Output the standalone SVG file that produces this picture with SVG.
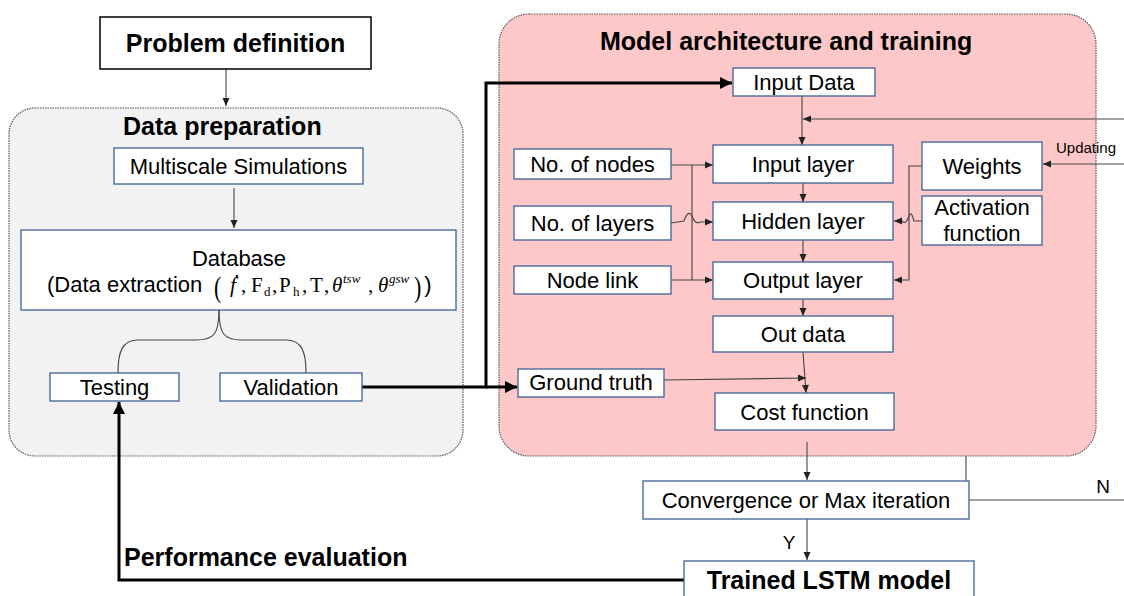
<svg xmlns="http://www.w3.org/2000/svg" width="1124" height="596" viewBox="0 0 1124 596">
<defs>
<marker id="ah" markerUnits="userSpaceOnUse" markerWidth="10" markerHeight="10" viewBox="0 0 10 10" refX="9" refY="5" orient="auto"><path d="M1,1.5 L9,5 L1,8.5 Z" fill="#222"/></marker>
<marker id="ahb" markerUnits="userSpaceOnUse" markerWidth="14" markerHeight="14" viewBox="0 0 14 14" refX="13" refY="7" orient="auto"><path d="M1,1 L13,7 L1,13 Z" fill="#000"/></marker>
</defs>
<style>
.box{fill:#fff;stroke:#3d6098;stroke-width:1.3}
.t{font-family:"Liberation Sans",Arial,sans-serif;font-size:22px;fill:#000;text-anchor:middle}
.b{font-family:"Liberation Sans",Arial,sans-serif;font-weight:bold;font-size:25px;fill:#000}
.m{font-family:"Liberation Serif","DejaVu Serif",serif;font-size:21px;fill:#000}
.ln{fill:none;stroke:#444;stroke-width:1.1}
.th{fill:none;stroke:#000;stroke-width:3}
.grp{stroke:#555;stroke-width:1.2;stroke-dasharray:1.5 1}
</style>

<g id="data-preparation">
<rect x="9" y="108" width="454" height="348" rx="26" fill="#f2f2f2" class="grp"/>
<text class="b" x="123" y="135">Data preparation</text>
</g>
<g id="model-architecture">
<rect x="499" y="14" width="597" height="442" rx="30" fill="#ffc8c8" class="grp"/>
<text class="b" x="600" y="50">Model architecture and training</text>
</g>

<g id="connectors">
<path class="ln" d="M226,69 V106" marker-end="url(#ah)"/>
<path class="ln" d="M234,188 V228" marker-end="url(#ah)"/>
<path class="ln" d="M219,310 C219,334 214,340 196,340 L138,340 C122,340 118,352 118,373"/>
<path class="ln" d="M219,310 C219,334 224,340 242,340 L286,340 C302,340 306,352 306,373"/>
<path class="th" d="M362,387 H486 V83 H732" marker-end="url(#ahb)"/>
<path class="th" d="M486,387 H517" marker-end="url(#ahb)"/>
<path class="th" d="M684,580 H119 V402" marker-end="url(#ahb)"/>
<path class="ln" d="M802,96 V145" marker-end="url(#ah)"/>
<path class="ln" d="M1124,119 H803" marker-end="url(#ah)"/>
<path class="ln" d="M1124,164 H1043" marker-end="url(#ah)"/>
<path class="ln" d="M803,183 V202" marker-end="url(#ah)"/>
<path class="ln" d="M803,240 V262" marker-end="url(#ah)"/>
<path class="ln" d="M803,299 V316" marker-end="url(#ah)"/>
<path class="ln" d="M671,165 H713" marker-end="url(#ah)"/>
<path class="ln" d="M692,165 V280"/>
<path class="ln" d="M671,280 H713" marker-end="url(#ah)"/>
<path class="ln" d="M671,223 L684,221 C687,212 690,212 692,216 C694,222 697,224 700,222 L713,222" marker-end="url(#ah)"/>
<path class="ln" d="M922,166 H909 V280 H894" marker-end="url(#ah)"/>
<path class="ln" d="M922,221 H914 C912,213 910,212 909,216 C907,222 905,224 902,221 L894,221" marker-end="url(#ah)"/>
<path class="ln" d="M803,352 L806,393" marker-end="url(#ah)"/>
<path class="ln" d="M664,380 L806,378" marker-end="url(#ah)"/>
<path class="ln" d="M807,442 V480" marker-end="url(#ah)"/>
<path class="ln" d="M966,456 V481"/>
<path class="ln" d="M969,500 H1124"/>
<path class="ln" d="M807,519 V560" marker-end="url(#ah)"/>
<text class="t" x="789" y="549" style="font-size:19px">Y</text>
<text class="t" x="1103" y="493" style="font-size:19px">N</text>
<text class="t" x="1056" y="153" style="font-size:15px;text-anchor:start">Updating</text>
</g>

<g id="problem-definition">
<rect x="100" y="17" width="271" height="52" fill="#fff" stroke="#000" stroke-width="1.5"/>
<text class="b" x="235.5" y="52" text-anchor="middle">Problem definition</text>
</g>
<g id="multiscale-simulations">
<rect class="box" x="114" y="148" width="249" height="36"/>
<text class="t" x="238.5" y="174">Multiscale Simulations</text>
</g>
<g id="database">
<rect class="box" x="21" y="230" width="435" height="80"/>
<text class="t" x="239" y="266">Database</text>
<text class="t" x="47" y="292" style="text-anchor:start">(Data extraction</text>
<text class="m" transform="translate(214,297) scale(1,1.35)" style="font-size:22px">(</text>
<text class="m" x="230" y="292" font-style="italic">ḟ</text>
<text class="m" x="241" y="292">,</text>
<text class="m" x="251" y="292">F</text><text class="m" x="264" y="296" style="font-size:13px">d</text>
<text class="m" x="272" y="292">,</text>
<text class="m" x="279" y="292">P</text><text class="m" x="293" y="296" style="font-size:13px">h</text>
<text class="m" x="302" y="292">,</text>
<text class="m" x="310" y="292">T</text>
<text class="m" x="324" y="292">,</text>
<text class="m" x="332" y="292" font-style="italic">θ</text><text class="m" x="343" y="283" font-style="italic" style="font-size:13px">tsw</text>
<text class="m" x="368" y="292">,</text>
<text class="m" x="378" y="292" font-style="italic">θ</text><text class="m" x="389" y="283" font-style="italic" style="font-size:13px">gsw</text>
<text class="m" transform="translate(414,297) scale(1,1.35)" style="font-size:22px">)</text>
<text class="t" x="428" y="292">)</text>
</g>
<g id="testing">
<rect class="box" x="50" y="373" width="129" height="28"/>
<text class="t" x="114.5" y="395">Testing</text>
</g>
<g id="validation">
<rect class="box" x="220" y="373" width="142" height="28"/>
<text class="t" x="291" y="395">Validation</text>
</g>
<g id="input-data">
<rect class="box" x="733" y="68" width="142" height="28"/>
<text class="t" x="804" y="90">Input Data</text>
</g>
<g id="no-of-nodes">
<rect class="box" x="514" y="149" width="157" height="30"/>
<text class="t" x="592.5" y="172">No. of nodes</text>
</g>
<g id="no-of-layers">
<rect class="box" x="514" y="206" width="157" height="34"/>
<text class="t" x="592.5" y="231">No. of layers</text>
</g>
<g id="node-link">
<rect class="box" x="514" y="266" width="157" height="28"/>
<text class="t" x="592.5" y="288">Node link</text>
</g>
<g id="input-layer">
<rect class="box" x="713" y="145" width="180" height="38"/>
<text class="t" x="803" y="172">Input layer</text>
</g>
<g id="hidden-layer">
<rect class="box" x="713" y="202" width="180" height="38"/>
<text class="t" x="803" y="229">Hidden layer</text>
</g>
<g id="output-layer">
<rect class="box" x="713" y="262" width="180" height="37"/>
<text class="t" x="803" y="288">Output layer</text>
</g>
<g id="weights">
<rect class="box" x="922" y="142" width="120" height="48"/>
<text class="t" x="982" y="174">Weights</text>
</g>
<g id="activation-function">
<rect class="box" x="922" y="196" width="120" height="49"/>
<text class="t" x="982" y="215">Activation</text>
<text class="t" x="982" y="241">function</text>
</g>
<g id="out-data">
<rect class="box" x="713" y="316" width="180" height="36"/>
<text class="t" x="803" y="342">Out data</text>
</g>
<g id="ground-truth">
<rect class="box" x="518" y="369" width="146" height="28"/>
<text class="t" x="591" y="390">Ground truth</text>
</g>
<g id="cost-function">
<rect class="box" x="715" y="393" width="179" height="37"/>
<text class="t" x="804.5" y="420">Cost function</text>
</g>
<g id="convergence">
<rect class="box" x="643" y="481" width="326" height="38"/>
<text class="t" x="806" y="508">Convergence or Max iteration</text>
</g>
<g id="trained-lstm">
<rect class="box" x="684" y="561" width="290" height="50"/>
<text class="b" x="829" y="589" text-anchor="middle">Trained LSTM model</text>
</g>
<g id="performance-evaluation">
<text class="b" x="124" y="566">Performance evaluation</text>
</g>
</svg>
